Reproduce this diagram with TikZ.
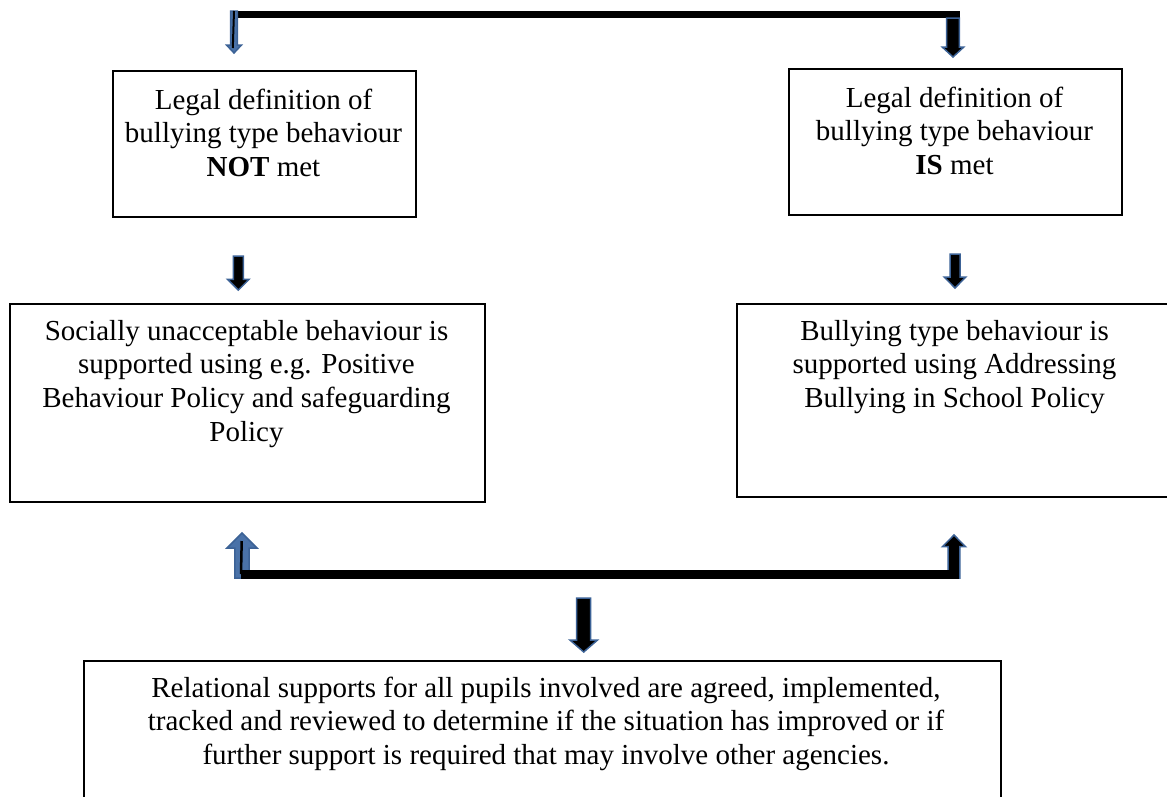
\documentclass[tikz,border=0pt]{standalone}
\usepackage{fontspec}
\setmainfont{Liberation Serif}
\definecolor{arrowblue}{HTML}{3C6296}
\definecolor{arrowfill}{HTML}{4A72A8}
\tikzset{
  box/.style={draw=black, line width=1.8pt, inner sep=0pt, anchor=north west},
  boxtext/.style={anchor=north, inner sep=0pt, align=center, font=\fontsize{29}{33.7}\selectfont},
  bar/.style={line width=7pt, black},
  barrowline/.style={draw=arrowblue, line width=1.5pt, line join=miter},
  innerline/.style={black, line width=2.5pt},
}
% name, fill, x, ytail, yheadbase, ytip, shaft half width, head half width
\newcommand\BArrow[8]{%
  \filldraw[barrowline, fill=#2] (#3-#7,#4) -- (#3-#7,#5) -- (#3-#8,#5) -- (#3,#6)
    -- (#3+#8,#5) -- (#3+#7,#5) -- (#3+#7,#4) -- cycle;
  \coordinate (#1) at (#3,#4);
}
\begin{document}
\begin{tikzpicture}[x=1pt, y=-1pt]
\useasboundingbox (0,0) rectangle (1167,796);
\clip (0,0) rectangle (1167,796);

% boxes
\node[box, minimum width=303pt, minimum height=146pt] (b1) at (112,70) {};
\node[box, minimum width=333pt, minimum height=146pt] (b2) at (788,68) {};
\node[box, minimum width=475pt, minimum height=198pt] (b3) at (9,303) {};
\node[box, minimum width=437pt, minimum height=193pt] (b4) at (736,303) {};
\node[box, minimum width=917pt, minimum height=160pt] (b5) at (83,660) {};

% texts
\node[boxtext] (t1) at (263.5,85.4) {\strut Legal definition of\\ bullying type behaviour\\ \textbf{NOT} met};
\node[boxtext] (t2) at (954.5,83.4) {\strut Legal definition of\\ bullying type behaviour\\ \textbf{IS} met};
\node[boxtext] (t3) at (246.5,316.4) {\strut Socially unacceptable behaviour is\\ supported using e.g. Positive\\ Behaviour Policy and safeguarding\\ Policy};
\node[boxtext] (t4) at (954.5,316.4) {\strut Bullying type behaviour is\\ supported using Addressing\\ Bullying in School Policy};
\node[boxtext] (t5) at (546,673.4) {\strut Relational supports for all pupils involved are agreed, implemented,\\ tracked and reviewed to determine if the situation has improved or if\\ further support is required that may involve other agencies.};

% top connector
\coordinate (tl) at (233,14.5);
\coordinate (tr) at (960,14.5);
\draw[bar] (tl) -- (tr);
\BArrow{a1}{arrowfill}{234}{11}{45}{53}{3.3}{7.5}
\coordinate (a1in) at (232.8,48);
\draw[line width=2pt, black] (a1) -- (a1in);
\BArrow{a2}{black}{953}{18}{47}{57}{6.3}{10.8}

% middle arrows
\BArrow{a3}{black}{238.3}{256}{279.3}{290}{5}{10.8}
\BArrow{a4}{black}{955}{254}{277}{288}{5}{10.8}

% bottom connector
\BArrow{a5}{arrowfill}{242}{578}{548}{533}{7.2}{15}
\BArrow{a6}{black}{954}{578}{546.7}{535}{5.8}{11.5}
\coordinate (bl) at (241,574);
\coordinate (br) at (959,574);
\draw[bar, line width=9pt] (bl) -- (br);
\coordinate (a5in) at (241.7,541);
\draw[innerline] (bl) -- (a5in);

% down arrow to final box
\BArrow{a7}{black}{583.7}{598}{640}{652}{7}{13.8}
\end{tikzpicture}
\end{document}
